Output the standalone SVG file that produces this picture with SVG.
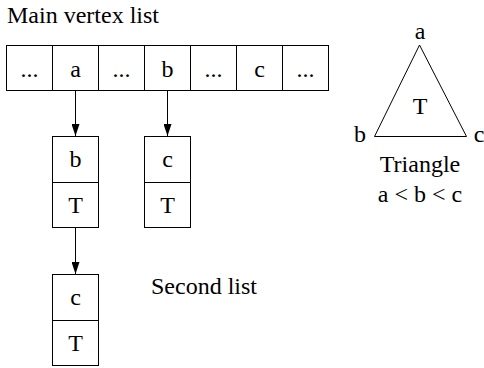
<svg xmlns="http://www.w3.org/2000/svg" width="484" height="368" viewBox="0 0 484 368">
<style>
text{font-family:'Liberation Serif','Times New Roman',serif;font-size:24px;fill:#000}
.c{text-anchor:middle}
.box{fill:#fff;stroke:#000;stroke-width:1}
.ln{stroke:#000;stroke-width:1;fill:none}
</style>
<defs>
<marker id="ah" markerWidth="12" markerHeight="8" refX="12" refY="4" orient="auto" markerUnits="userSpaceOnUse" viewBox="0 0 12 8">
<path d="M0,0 L12,4 L0,8 Z" fill="#000"/>
</marker>
</defs>
<rect width="484" height="368" fill="#fff"/>
<text x="7" y="23">Main vertex list</text>
<g id="main-list">
<rect class="box" x="6.5" y="45.5" width="46" height="45"/>
<rect class="box" x="52.5" y="45.5" width="46" height="45"/>
<rect class="box" x="98.5" y="45.5" width="46" height="45"/>
<rect class="box" x="144.5" y="45.5" width="46" height="45"/>
<rect class="box" x="190.5" y="45.5" width="46" height="45"/>
<rect class="box" x="236.5" y="45.5" width="46" height="45"/>
<rect class="box" x="282.5" y="45.5" width="46" height="45"/>
<text class="c" x="29.5" y="77">...</text>
<text class="c" x="75.5" y="77">a</text>
<text class="c" x="121.5" y="77">...</text>
<text class="c" x="167.5" y="77">b</text>
<text class="c" x="213.5" y="77">...</text>
<text class="c" x="259.5" y="77">c</text>
<text class="c" x="305.5" y="77">...</text>
</g>
<g id="node-b">
<rect class="box" x="52.5" y="136.5" width="46" height="46"/>
<rect class="box" x="52.5" y="182.5" width="46" height="45"/>
<text class="c" x="75.5" y="167">b</text>
<text class="c" x="75.5" y="213">T</text>
</g>
<g id="node-c1">
<rect class="box" x="144.5" y="136.5" width="46" height="46"/>
<rect class="box" x="144.5" y="182.5" width="46" height="45"/>
<text class="c" x="167.5" y="167">c</text>
<text class="c" x="167.5" y="213">T</text>
</g>
<g id="node-c2">
<rect class="box" x="52.5" y="274.5" width="46" height="46"/>
<rect class="box" x="52.5" y="320.5" width="46" height="45"/>
<text class="c" x="75.5" y="305">c</text>
<text class="c" x="75.5" y="351">T</text>
</g>
<text x="151" y="294">Second list</text>
<g id="triangle">
<path class="ln" d="M419.5,45 L374.5,136.5 L466.5,136.5 Z"/>
<text class="c" x="420" y="39">a</text>
<text class="c" x="360" y="142">b</text>
<text class="c" x="479" y="142">c</text>
<text class="c" x="420" y="114">T</text>
<text class="c" x="420" y="172">Triangle</text>
<text class="c" x="420" y="202">a &lt; b &lt; c</text>
</g>
<g id="connectors">
<line class="ln" x1="75.5" y1="90.5" x2="75.5" y2="136" marker-end="url(#ah)"/>
<line class="ln" x1="167.5" y1="90.5" x2="167.5" y2="136" marker-end="url(#ah)"/>
<line class="ln" x1="75.5" y1="227.5" x2="75.5" y2="274" marker-end="url(#ah)"/>
</g>
</svg>
